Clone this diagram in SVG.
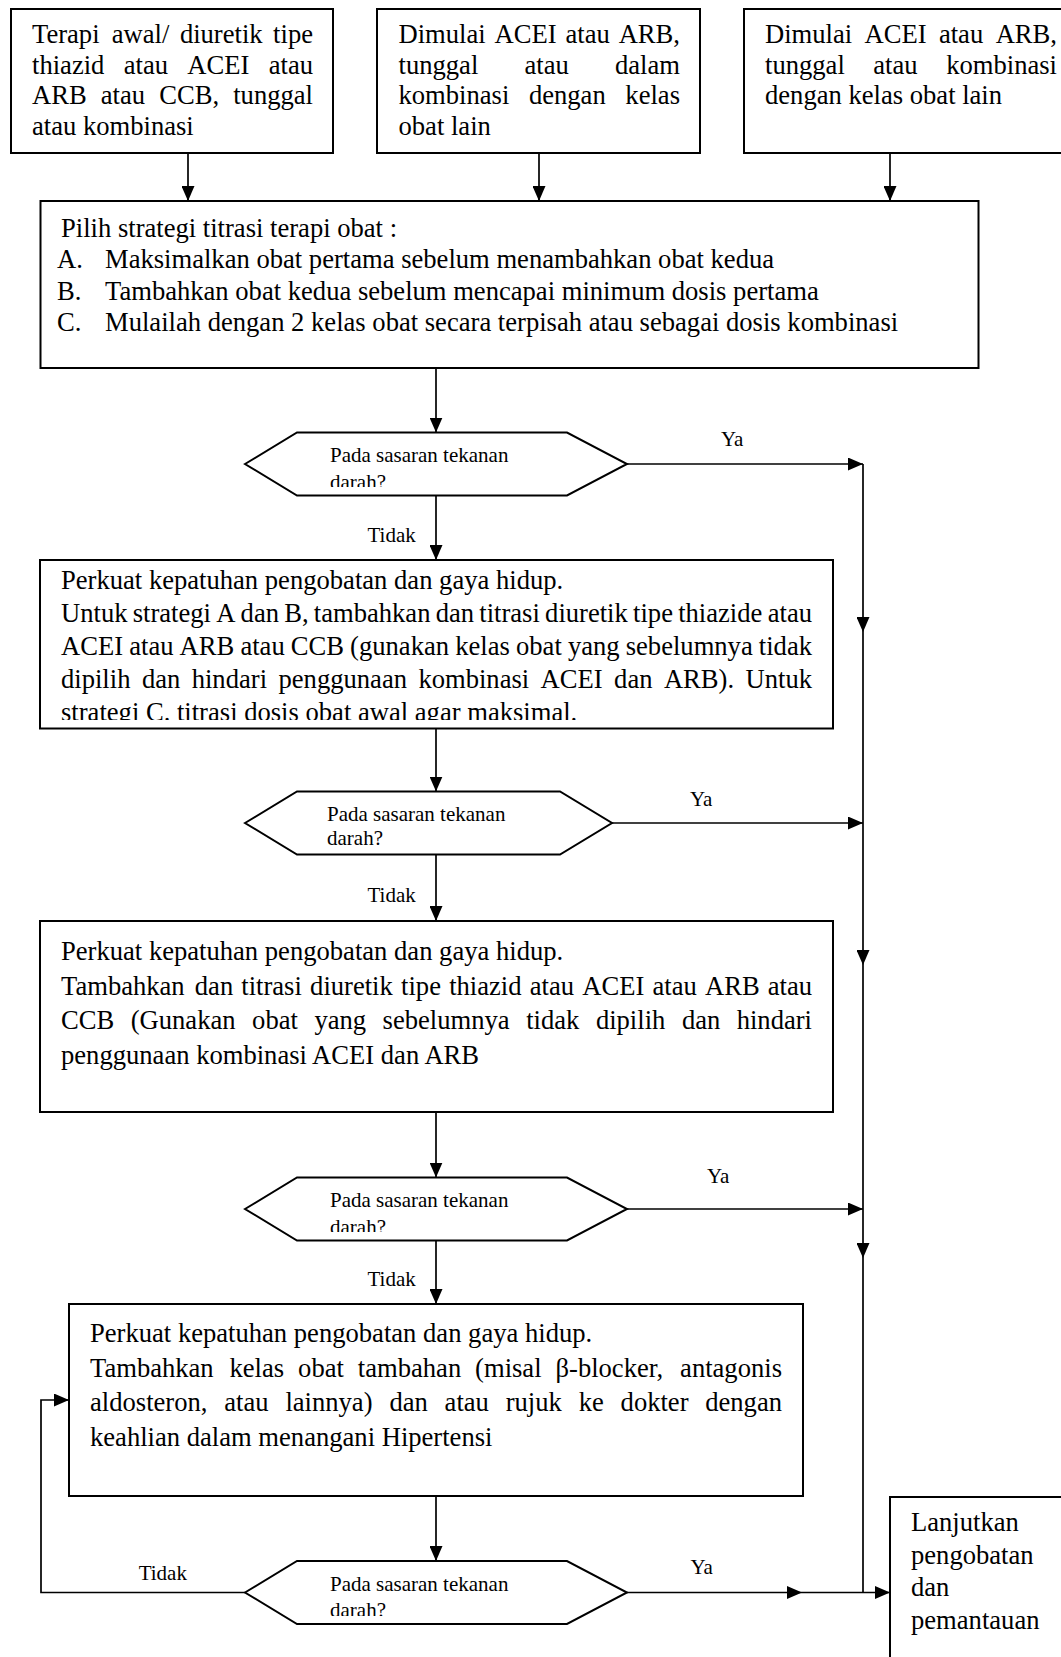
<svg xmlns="http://www.w3.org/2000/svg" width="1061" height="1657" viewBox="0 0 1061 1657">
  <style>
    .box { fill: #fff; stroke: #000; stroke-width: 2; }
    .hex { fill: #fff; stroke: #000; stroke-width: 2; }
    .ln { fill: none; stroke: #000; stroke-width: 1.7; }
    .t { font-family: "Liberation Serif", "Times New Roman", serif; font-size: 26.6px; fill: #000; }
    .s { font-family: "Liberation Serif", "Times New Roman", serif; font-size: 21px; fill: #000; }
    .e { text-anchor: end; }
  </style>
  <defs>
    <marker id="arrow" markerUnits="userSpaceOnUse" markerWidth="15" markerHeight="13" refX="15" refY="6.5" orient="auto">
      <path d="M0,0 L15,6.5 L0,13 z" fill="#000"/>
    </marker>
    <clipPath id="clipStep1"><rect x="40" y="560" width="793" height="160"/></clipPath>
    <clipPath id="clipQ1"><rect x="245" y="432" width="382" height="55"/></clipPath>
    <clipPath id="clipQ3"><rect x="245" y="1177" width="382" height="55"/></clipPath>
    <clipPath id="clipQ4"><rect x="245" y="1561" width="382" height="55"/></clipPath>
  </defs>

  <!-- starting therapies -->
  <g id="start-thiazid">
    <rect class="box" x="11" y="9" width="322" height="144"/>
    <text class="t" y="43"><tspan x="32">Terapi</tspan><tspan x="111.8">awal/</tspan><tspan x="179.9">diuretik</tspan><tspan x="313" class="e">tipe</tspan></text>
    <text class="t" y="73.5"><tspan x="32">thiazid</tspan><tspan x="123.7">atau</tspan><tspan x="187.3">ACEI</tspan><tspan x="313" class="e">atau</tspan></text>
    <text class="t" y="104"><tspan x="32">ARB</tspan><tspan x="100.8">atau</tspan><tspan x="159.2">CCB,</tspan><tspan x="313" class="e">tunggal</tspan></text>
    <text class="t" x="32" y="134.5">atau kombinasi</text>
  </g>

  <g id="start-acei-arb-a">
    <rect class="box" x="377" y="9" width="323" height="144"/>
    <text class="t" y="43"><tspan x="398.5">Dimulai</tspan><tspan x="494.6">ACEI</tspan><tspan x="565.5">atau</tspan><tspan x="680" class="e">ARB,</tspan></text>
    <text class="t" y="73.5"><tspan x="398.5">tunggal</tspan><tspan x="524.5">atau</tspan><tspan x="680" class="e">dalam</tspan></text>
    <text class="t" y="104"><tspan x="398.5">kombinasi</tspan><tspan x="528.9">dengan</tspan><tspan x="680" class="e">kelas</tspan></text>
    <text class="t" x="398.5" y="134.5">obat lain</text>
  </g>

  <g id="start-acei-arb-b">
    <rect class="box" x="744" y="9" width="340" height="144"/>
    <text class="t" y="43"><tspan x="765">Dimulai</tspan><tspan x="864.5">ACEI</tspan><tspan x="938.9">atau</tspan><tspan x="1057" class="e">ARB,</tspan></text>
    <text class="t" y="73.5"><tspan x="765">tunggal</tspan><tspan x="873.3">atau</tspan><tspan x="1057" class="e">kombinasi</tspan></text>
    <text class="t" x="765" y="104">dengan kelas obat lain</text>
  </g>

  <!-- titration strategy -->
  <g id="strategy">
    <rect class="box" x="40.5" y="201" width="938" height="167"/>
    <text class="t" x="61" y="237">Pilih strategi titrasi terapi obat :</text>
    <text class="t" x="57" y="268">A.</text>
    <text class="t" x="105" y="268">Maksimalkan obat pertama sebelum menambahkan obat kedua</text>
    <text class="t" x="57" y="299.5">B.</text>
    <text class="t" x="105" y="299.5">Tambahkan obat kedua sebelum mencapai minimum dosis pertama</text>
    <text class="t" x="57" y="331">C.</text>
    <text class="t" x="105" y="331">Mulailah dengan 2 kelas obat secara terpisah atau sebagai dosis kombinasi</text>
  </g>

  <!-- decision 1 -->
  <g id="check-1">
    <polygon class="hex" points="245,464 297,432.5 567,432.5 627,464 567,495.5 297,495.5"/>
    <g clip-path="url(#clipQ1)">
      <text class="s" x="330" y="462">Pada sasaran tekanan</text>
      <text class="s" x="330" y="488.5">darah?</text>
    </g>
  </g>

  <!-- step 1 -->
  <g id="step-1">
    <rect class="box" x="40" y="560" width="793" height="168.5"/>
    <text class="t" x="61" y="589">Perkuat kepatuhan pengobatan dan gaya hidup.</text>
    <text class="t" y="622"><tspan x="61">Untuk</tspan><tspan x="132.7">strategi</tspan><tspan x="216.2">A</tspan><tspan x="240.6">dan</tspan><tspan x="284.2">B,</tspan><tspan x="313.8">tambahkan</tspan><tspan x="435.7">dan</tspan><tspan x="479.3">titrasi</tspan><tspan x="545.1">diuretik</tspan><tspan x="633.1">tipe</tspan><tspan x="678.2">thiazide</tspan><tspan x="812" class="e">atau</tspan></text>
    <text class="t" y="655"><tspan x="61">ACEI</tspan><tspan x="129.2">atau</tspan><tspan x="179.6">ARB</tspan><tspan x="240.4">atau</tspan><tspan x="290.8">CCB</tspan><tspan x="350.1">(gunakan</tspan><tspan x="455.2">kelas</tspan><tspan x="516">obat</tspan><tspan x="567.9">yang</tspan><tspan x="625.7">sebelumnya</tspan><tspan x="812" class="e">tidak</tspan></text>
    <text class="t" y="688"><tspan x="61">dipilih</tspan><tspan x="141.9">dan</tspan><tspan x="191.7">hindari</tspan><tspan x="278.5">penggunaan</tspan><tspan x="418.4">kombinasi</tspan><tspan x="540.6">ACEI</tspan><tspan x="614.1">dan</tspan><tspan x="663.9">ARB).</tspan><tspan x="812" class="e">Untuk</tspan></text>
    <text class="t" x="61" y="721" clip-path="url(#clipStep1)">strategi C. titrasi dosis obat awal agar maksimal.</text>
  </g>

  <!-- decision 2 -->
  <g id="check-2">
    <polygon class="hex" points="245,823 297,791.5 560,791.5 612,823 560,854.5 297,854.5"/>
    <text class="s" x="327" y="821">Pada sasaran tekanan</text>
    <text class="s" x="327" y="845">darah?</text>
  </g>

  <!-- step 2 -->
  <g id="step-2">
    <rect class="box" x="40" y="921" width="793" height="191"/>
    <text class="t" x="61" y="960">Perkuat kepatuhan pengobatan dan gaya hidup.</text>
    <text class="t" y="994.5"><tspan x="61">Tambahkan</tspan><tspan x="194.8">dan</tspan><tspan x="241.3">titrasi</tspan><tspan x="310.1">diuretik</tspan><tspan x="401.1">tipe</tspan><tspan x="449.2">thiazid</tspan><tspan x="529.8">atau</tspan><tspan x="582.2">ACEI</tspan><tspan x="652.5">atau</tspan><tspan x="705">ARB</tspan><tspan x="812" class="e">atau</tspan></text>
    <text class="t" y="1029"><tspan x="61">CCB</tspan><tspan x="130.7">(Gunakan</tspan><tspan x="252.1">obat</tspan><tspan x="314.4">yang</tspan><tspan x="382.6">sebelumnya</tspan><tspan x="526.2">tidak</tspan><tspan x="595.9">dipilih</tspan><tspan x="681.9">dan</tspan><tspan x="812" class="e">hindari</tspan></text>
    <text class="t" x="61" y="1063.5">penggunaan kombinasi ACEI dan ARB</text>
  </g>

  <!-- decision 3 -->
  <g id="check-3">
    <polygon class="hex" points="245,1209 297,1177.5 567,1177.5 627,1209 567,1240.5 297,1240.5"/>
    <g clip-path="url(#clipQ3)">
      <text class="s" x="330" y="1207">Pada sasaran tekanan</text>
      <text class="s" x="330" y="1233.5">darah?</text>
    </g>
  </g>

  <!-- step 3 -->
  <g id="step-3">
    <rect class="box" x="69" y="1304" width="734" height="192"/>
    <text class="t" x="90" y="1342">Perkuat kepatuhan pengobatan dan gaya hidup.</text>
    <text class="t" y="1376.5"><tspan x="90">Tambahkan</tspan><tspan x="229.5">kelas</tspan><tspan x="298.1">obat</tspan><tspan x="357.8">tambahan</tspan><tspan x="475.1">(misal</tspan><tspan x="555.5">β-blocker,</tspan><tspan x="782" class="e">antagonis</tspan></text>
    <text class="t" y="1411"><tspan x="90">aldosteron,</tspan><tspan x="224.3">atau</tspan><tspan x="285.4">lainnya)</tspan><tspan x="389.4">dan</tspan><tspan x="444.6">atau</tspan><tspan x="505.7">rujuk</tspan><tspan x="578.7">ke</tspan><tspan x="620.6">dokter</tspan><tspan x="782" class="e">dengan</tspan></text>
    <text class="t" x="90" y="1445.5">keahlian dalam menangani Hipertensi</text>
  </g>

  <!-- decision 4 -->
  <g id="check-4">
    <polygon class="hex" points="245,1592.5 297,1561 567,1561 627,1592.5 567,1624 297,1624"/>
    <g clip-path="url(#clipQ4)">
      <text class="s" x="330" y="1590.5">Pada sasaran tekanan</text>
      <text class="s" x="330" y="1617">darah?</text>
    </g>
  </g>

  <!-- continue treatment -->
  <g id="continue">
    <rect class="box" x="890" y="1497" width="200" height="200"/>
    <text class="t" x="911" y="1531">Lanjutkan</text>
    <text class="t" x="911" y="1563.5">pengobatan</text>
    <text class="t" x="911" y="1596">dan</text>
    <text class="t" x="911" y="1629">pemantauan</text>
  </g>

  <!-- connectors -->
  <g id="connectors">
    <line class="ln" x1="188" y1="153" x2="188" y2="201" marker-end="url(#arrow)"/>
    <line class="ln" x1="539" y1="153" x2="539" y2="201" marker-end="url(#arrow)"/>
    <line class="ln" x1="890" y1="153" x2="890" y2="201" marker-end="url(#arrow)"/>

    <line class="ln" x1="436" y1="368" x2="436" y2="432.5" marker-end="url(#arrow)"/>
    <line class="ln" x1="436" y1="495.5" x2="436" y2="560" marker-end="url(#arrow)"/>
    <line class="ln" x1="436" y1="728.5" x2="436" y2="791.5" marker-end="url(#arrow)"/>
    <line class="ln" x1="436" y1="854.5" x2="436" y2="921" marker-end="url(#arrow)"/>
    <line class="ln" x1="436" y1="1112" x2="436" y2="1177.5" marker-end="url(#arrow)"/>
    <line class="ln" x1="436" y1="1240.5" x2="436" y2="1304" marker-end="url(#arrow)"/>
    <line class="ln" x1="436" y1="1496" x2="436" y2="1561" marker-end="url(#arrow)"/>

    <line class="ln" x1="627" y1="464" x2="863" y2="464" marker-end="url(#arrow)"/>
    <line class="ln" x1="612" y1="823" x2="863" y2="823" marker-end="url(#arrow)"/>
    <line class="ln" x1="627" y1="1209" x2="863" y2="1209" marker-end="url(#arrow)"/>
    <line class="ln" x1="627" y1="1592.5" x2="802" y2="1592.5" marker-end="url(#arrow)"/>
    <line class="ln" x1="802" y1="1592.5" x2="890" y2="1592.5" marker-end="url(#arrow)"/>

    <line class="ln" x1="863" y1="464" x2="863" y2="632" marker-end="url(#arrow)"/>
    <line class="ln" x1="863" y1="632" x2="863" y2="965" marker-end="url(#arrow)"/>
    <line class="ln" x1="863" y1="965" x2="863" y2="1258" marker-end="url(#arrow)"/>
    <line class="ln" x1="863" y1="1258" x2="863" y2="1592.5"/>

    <polyline class="ln" points="245,1592.5 41,1592.5 41,1400 69,1400" marker-end="url(#arrow)"/>

    <text class="s" x="721" y="446">Ya</text>
    <text class="s" x="690" y="806">Ya</text>
    <text class="s" x="707" y="1182.5">Ya</text>
    <text class="s" x="690.5" y="1574">Ya</text>
    <text class="s" x="367.5" y="542">Tidak</text>
    <text class="s" x="367.5" y="902">Tidak</text>
    <text class="s" x="367.5" y="1286">Tidak</text>
    <text class="s" x="138.7" y="1580">Tidak</text>
  </g>
</svg>
